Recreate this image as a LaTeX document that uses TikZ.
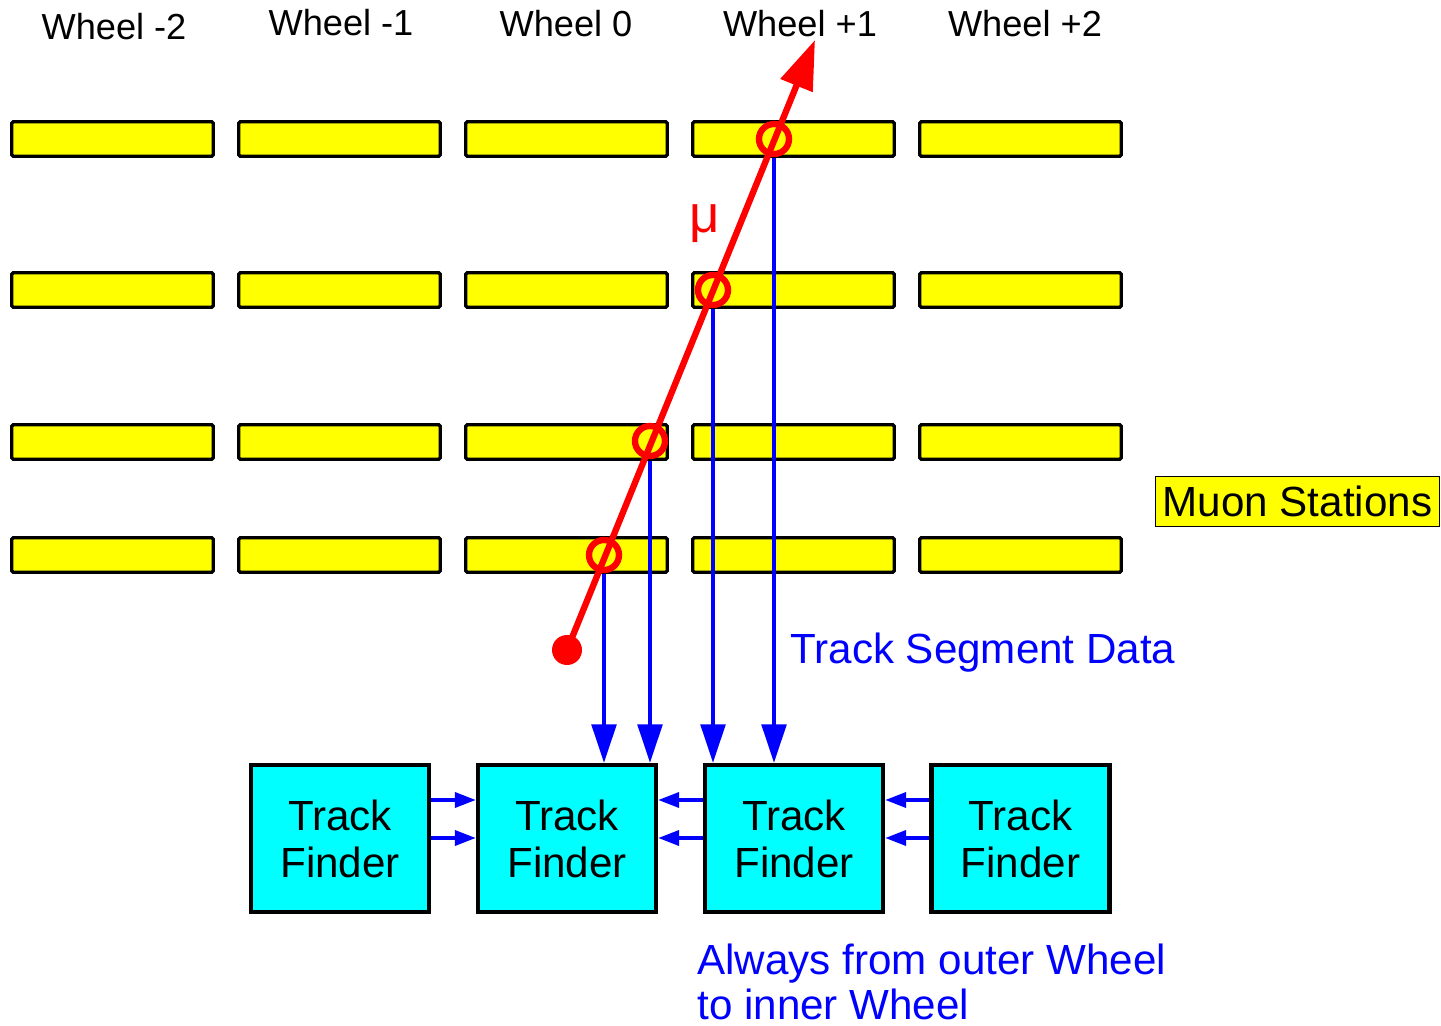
\documentclass[tikz,border=0pt]{standalone}
\usepackage{fontspec}
\setmainfont{Liberation Sans}
\usetikzlibrary{arrows.meta}
\definecolor{baryellow}{RGB}{255,255,0}
\definecolor{tfcyan}{RGB}{0,255,255}
\definecolor{pureblue}{RGB}{0,0,255}
\definecolor{purered}{RGB}{255,0,0}
\begin{document}
\begin{tikzpicture}[x=0.02cm,y=-0.02cm,
  bar/.style={draw=black,fill=baryellow,line width=1.9pt,rounded corners=0.8pt,inner sep=0pt,minimum width=4.03cm,minimum height=0.69cm},
  tfbox/.style={draw=black,fill=tfcyan,line width=2.4pt,inner sep=0pt,minimum width=3.56cm,minimum height=2.94cm,align=center,font=\fontsize{24}{26.7}\selectfont},
  wheellabel/.style={anchor=base,font=\fontsize{20.6}{24}\selectfont},
  hit/.style={circle,draw=purered,line width=3.6pt,inner sep=0pt,minimum size=0.6cm},
  segdata/.style={draw=pureblue,line width=2.2pt,-{Triangle[length=22pt,width=14pt]}},
  neighbour/.style={draw=pureblue,line width=2.2pt,-{Triangle[length=12pt,width=8.5pt]}},
  bluetext/.style={text=pureblue,font=\fontsize{24}{25.6}\selectfont}]
\useasboundingbox (0,0) rectangle (1441,1026);

% wheel labels
\node[wheellabel] (w1) at (114,40) {Wheel -2};
\node[wheellabel] (w2) at (341,36) {Wheel -1};
\node[wheellabel] (w3) at (566,37) {Wheel 0};
\node[wheellabel] (w4) at (800,37) {Wheel +1};
\node[wheellabel] (w5) at (1025,37) {Wheel +2};

% muon station bars
\foreach \r/\yy in {1/139,2/290,3/442,4/555}{
  \foreach \c/\xx in {1/112.5,2/339.5,3/566.5,4/793.5,5/1020.5}{
    \node[bar] (b\r-\c) at (\xx,\yy) {};
  }
}

% legend
\node[draw=black,fill=baryellow,line width=1pt,inner sep=0pt,minimum width=5.68cm,minimum height=1.0cm,font=\fontsize{24}{26}\selectfont] (legend) at (1297.5,501.5) {Muon Stations};

% track finders
\node[tfbox] (tf1) at (340,838.5) {Track\\Finder};
\node[tfbox] (tf2) at (567,838.5) {Track\\Finder};
\node[tfbox] (tf3) at (794,838.5) {Track\\Finder};
\node[tfbox] (tf4) at (1020.5,838.5) {Track\\Finder};

% hits
\node[hit] (h1) at (604,555) {};
\node[hit] (h2) at (650,441) {};
\node[hit] (h3) at (713,290) {};
\node[hit] (h4) at (774,139) {};

% track segment data arrows
\draw[segdata] (h1 |- b4-3.south) -- (h1 |- tf2.north);
\draw[segdata] (h2 |- b3-3.south) -- (h2 |- tf2.north);
\draw[segdata] (h3 |- b2-4.south) -- (h3 |- tf3.north);
\draw[segdata] (h4 |- b1-4.south) -- (h4 |- tf3.north);

% neighbour exchange arrows
\coordinate (rowa) at (0,800);
\coordinate (rowb) at (0,838);
\draw[neighbour] (tf1.east |- rowa) -- (tf2.west |- rowa);
\draw[neighbour] (tf1.east |- rowb) -- (tf2.west |- rowb);
\draw[neighbour] (tf3.west |- rowa) -- (tf2.east |- rowa);
\draw[neighbour] (tf3.west |- rowb) -- (tf2.east |- rowb);
\draw[neighbour] (tf4.west |- rowa) -- (tf3.east |- rowa);
\draw[neighbour] (tf4.west |- rowb) -- (tf3.east |- rowb);

% muon track
\node[circle,fill=purered,inner sep=0pt,minimum size=0.6cm] (vtx) at (567,650) {};
\coordinate (tip) at (815,40);
\draw[purered,line width=3.6pt,-{Triangle[length=28pt,width=19pt]}] (vtx.center) -- (tip);
\node[text=purered,font=\fontsize{30}{32}\selectfont] (mu) at (705,224) {μ};

% texts
\node[bluetext,anchor=base west,inner sep=0pt] (tsd) at (790,664) {Track Segment Data};
\node[bluetext,anchor=base west,inner sep=0pt,align=left] (always) at (697,1019) {Always from outer Wheel\\to inner Wheel};
\end{tikzpicture}
\end{document}
